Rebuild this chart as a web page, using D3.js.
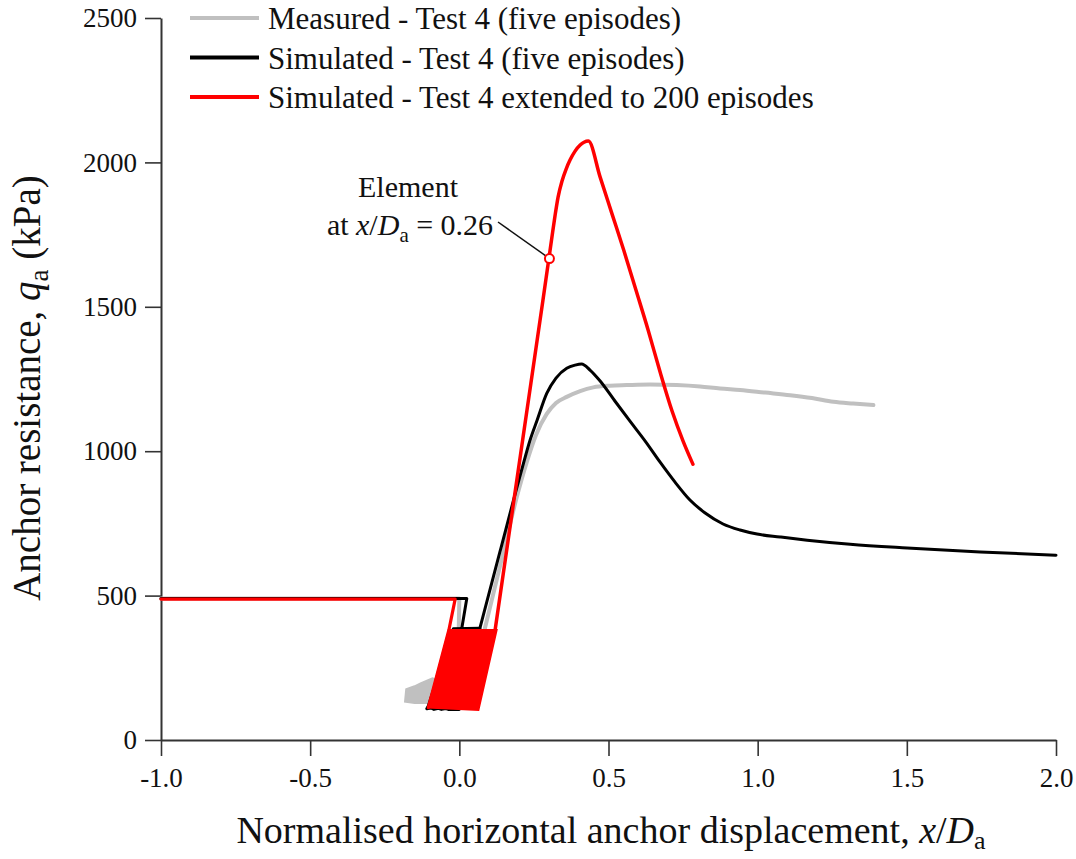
<!DOCTYPE html>
<html>
<head>
<meta charset="utf-8">
<script src="https://cdn.jsdelivr.net/npm/d3@7"></script>
<style>
  html, body { margin: 0; padding: 0; background: #fff; }
  svg { display: block; font-family: "Liberation Serif", "Times New Roman", serif; }
</style>
</head>
<body>
<svg id="chart" width="1076" height="859"></svg>
<script>
// ---------------- Data ----------------
const xTicks = [-1.0, -0.5, 0.0, 0.5, 1.0, 1.5, 2.0];
const yTicks = [0, 500, 1000, 1500, 2000, 2500];

const seriesNames = [
  "Measured - Test 4 (five episodes)",
  "Simulated - Test 4 (five episodes)",
  "Simulated - Test 4 extended to 200 episodes"
];
const seriesColors = ["#c0c0c0", "#000000", "#ff0000"];

// Measured - Test 4 (five episodes): [x/Da, qa]
const measuredCycle = [
  [-1.0, 490], [0.0, 490], [-0.002, 385], [-0.07, 150], [-0.05, 128], [0.03, 130], [0.086, 388]
];
const measuredRise = [
  [0.086, 388], [0.147, 647], [0.190, 831], [0.226, 962], [0.257, 1056], [0.293, 1129],
  [0.324, 1167], [0.360, 1188], [0.405, 1208], [0.449, 1221], [0.505, 1227], [0.561, 1229],
  [0.639, 1231], [0.729, 1229], [0.807, 1224], [0.874, 1217], [0.941, 1212], [1.025, 1203],
  [1.109, 1194], [1.182, 1184], [1.254, 1171], [1.320, 1165], [1.388, 1160]
];
// Measured cyclic scatter (grey blob near the bottom)
const measuredBlob = [
  [-0.182, 133], [-0.178, 176], [-0.15, 186], [-0.13, 196], [-0.09, 214],
  [-0.05, 200], [-0.05, 128], [-0.15, 128]
];

// Simulated - Test 4 (five episodes)
const simulatedCycle = [
  [-1.0, 490], [0.025, 490], [0.008, 385], [0.069, 385], [0.0, 106], [-0.037, 106],
  [-0.045, 109], [-0.06, 106], [-0.07, 110], [-0.085, 106], [-0.095, 111], [-0.109, 108],
  [-0.104, 118], [-0.02, 385], [0.069, 387]
];
const simulatedRise = [
  [0.069, 387], [0.136, 651], [0.209, 935], [0.237, 1038], [0.261, 1108], [0.293, 1200],
  [0.324, 1253], [0.360, 1287], [0.388, 1298], [0.410, 1302], [0.438, 1281], [0.472, 1243],
  [0.522, 1173], [0.572, 1104], [0.623, 1035], [0.673, 962], [0.723, 893], [0.773, 831],
  [0.824, 786], [0.884, 748], [0.941, 727], [0.998, 713], [1.075, 703], [1.166, 692],
  [1.310, 678], [1.501, 665], [1.746, 651], [2.0, 640]
];

// Simulated - Test 4 extended to 200 episodes
const extendedLead = [[-1.0, 488], [-0.014, 488], [-0.035, 381], [-0.104, 112]];
// envelope of the 200 dense cycles (solid red band)
const extendedCycles = [[-0.035, 381], [-0.104, 112], [0.064, 104], [0.125, 381]];
const extendedTail = [
  [0.120, 381], [0.180, 809], [0.240, 1236], [0.280, 1521], [0.309, 1731], [0.321, 1817],
  [0.331, 1880], [0.344, 1935], [0.358, 1977], [0.371, 2008], [0.388, 2039], [0.405, 2060],
  [0.418, 2070], [0.4325, 2074], [0.472, 1949], [0.512, 1821], [0.552, 1693], [0.592, 1558],
  [0.633, 1419], [0.673, 1274], [0.713, 1139], [0.750, 1035], [0.783, 955]
];

// Annotated element
const elementPoint = [0.302, 1667];
const elementLabel = ["Element", "at x/Da = 0.26"];

// ---------------- Layout ----------------
const svg = d3.select("#chart");
const x = d3.scaleLinear().domain([-1, 2]).range([161, 1056]);
const y = d3.scaleLinear().domain([0, 2500]).range([740, 18]);

const axisColor = "#333";

// Axes
const xAxis = d3.axisBottom(x).tickValues(xTicks).tickFormat(d => d.toFixed(1))
  .tickSize(16).tickSizeOuter(0).tickPadding(12);
const yAxis = d3.axisLeft(y).tickValues(yTicks).tickFormat(d => String(d))
  .tickSize(16).tickSizeOuter(0).tickPadding(8);

const gx = svg.append("g").attr("transform", `translate(0,${y(0)})`).call(xAxis);
const gy = svg.append("g").attr("transform", `translate(${x(-1)},0)`).call(yAxis);
[gx, gy].forEach(g => {
  g.selectAll("path.domain").attr("stroke", axisColor).attr("stroke-width", 2);
  g.selectAll(".tick line").attr("stroke", axisColor).attr("stroke-width", 1.6);
  g.selectAll(".tick text").attr("fill", "#111")
    .style("font-family", "'Liberation Serif', 'Times New Roman', serif")
    .style("font-size", "27px");
});

// Lines
const lin = d3.line().x(d => x(d[0])).y(d => y(d[1]));
const smooth = d3.line().x(d => x(d[0])).y(d => y(d[1])).curve(d3.curveMonotoneX);
const closed = d3.line().x(d => x(d[0])).y(d => y(d[1])).curve(d3.curveLinearClosed);

function stroke(sel, color, w) {
  return sel.attr("fill", "none").attr("stroke", color).attr("stroke-width", w)
    .attr("stroke-linejoin", "round").attr("stroke-linecap", "round");
}

// measured
svg.append("path").datum(measuredBlob).attr("d", closed)
  .attr("fill", seriesColors[0]).attr("stroke", seriesColors[0]).attr("stroke-width", 2);
stroke(svg.append("path").datum(measuredCycle).attr("d", lin), seriesColors[0], 4);
stroke(svg.append("path").datum(measuredRise).attr("d", smooth), seriesColors[0], 4);

// simulated (five episodes)
stroke(svg.append("path").datum(simulatedCycle).attr("d", lin), seriesColors[1], 3);
stroke(svg.append("path").datum(simulatedRise).attr("d", smooth), seriesColors[1], 3);

// simulated (200 episodes)
svg.append("path").datum(extendedCycles).attr("d", closed)
  .attr("fill", seriesColors[2]).attr("stroke", seriesColors[2]).attr("stroke-width", 2);
stroke(svg.append("path").datum(extendedLead).attr("d", lin), seriesColors[2], 3.2);
stroke(svg.append("path").datum(extendedTail).attr("d", smooth), seriesColors[2], 3.5);

// Annotation
const ann = svg.append("g").style("font-size", "30px").attr("fill", "#111");
ann.append("line")
  .attr("x1", 498).attr("y1", 222)
  .attr("x2", x(elementPoint[0]) - 4).attr("y2", y(elementPoint[1]) - 3)
  .attr("stroke", "#111").attr("stroke-width", 1.5);
ann.append("text").attr("x", 408).attr("y", 197).attr("text-anchor", "middle").text(elementLabel[0]);
const t2 = ann.append("text").attr("x", 410).attr("y", 235).attr("text-anchor", "middle");
t2.append("tspan").text("at ");
t2.append("tspan").style("font-style", "italic").text("x");
t2.append("tspan").text("/");
t2.append("tspan").style("font-style", "italic").text("D");
t2.append("tspan").attr("dy", 7).style("font-size", "21px").text("a");
t2.append("tspan").attr("dy", -7).text(" = 0.26");
svg.append("circle").attr("cx", x(elementPoint[0])).attr("cy", y(elementPoint[1])).attr("r", 4.5)
  .attr("fill", "#fff").attr("stroke", seriesColors[2]).attr("stroke-width", 2);

// Legend
const legend = svg.append("g").style("font-size", "31px");
seriesNames.forEach((name, i) => {
  const cy = 18 + i * 39.5;
  legend.append("line").attr("x1", 190).attr("x2", 259).attr("y1", cy).attr("y2", cy)
    .attr("stroke", seriesColors[i]).attr("stroke-width", 4);
  legend.append("text").attr("x", 268).attr("y", cy + 11).attr("fill", "#111").text(name);
});

// Axis titles
const xt = svg.append("text").attr("x", 611).attr("y", 843).attr("text-anchor", "middle")
  .style("font-size", "38px").attr("fill", "#111");
xt.append("tspan").text("Normalised horizontal anchor displacement, ");
xt.append("tspan").style("font-style", "italic").text("x");
xt.append("tspan").text("/");
xt.append("tspan").style("font-style", "italic").text("D");
xt.append("tspan").attr("dy", 6).style("font-size", "26px").text("a");

const yt = svg.append("text").attr("transform", "translate(40,388) rotate(-90)")
  .attr("text-anchor", "middle").style("font-size", "39px").attr("fill", "#111");
yt.append("tspan").text("Anchor resistance, ");
yt.append("tspan").style("font-style", "italic").text("q");
yt.append("tspan").attr("dy", 8).style("font-size", "27px").text("a");
yt.append("tspan").attr("dy", -8).text(" (kPa)");
</script>
</body>
</html>
